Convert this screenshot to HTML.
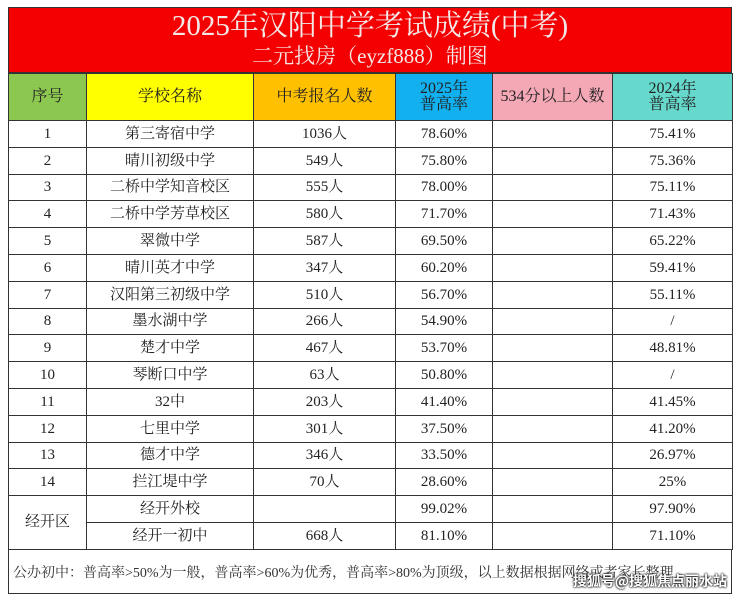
<!DOCTYPE html>
<html><head><meta charset="utf-8"><style>
body{margin:0;background:#fff;width:740px;height:602px;overflow:hidden;font-family:"Liberation Serif","Noto Serif CJK SC",serif;}
.wrap{position:absolute;left:8px;top:7px;width:724px;}
.title{background:#f50000;height:66px;border:1px solid #333;box-sizing:border-box;text-align:center;color:#f3e8e8;}
.t1{font-size:29px;line-height:32px;padding-top:2px;}
.t2{font-size:21px;line-height:28px;}
table{border-collapse:collapse;width:724px;table-layout:fixed;}
td{border:1px solid #333;text-align:center;font-size:15px;color:#222;height:25.8px;padding:0;line-height:16px;}
tr.h td{height:46px;font-size:16px;}
.foot{border:1px solid #333;border-top:none;height:44px;box-sizing:border-box;font-size:14px;color:#333;padding:12px 0 0 4px;white-space:nowrap;position:relative;}
.wm{position:absolute;right:4px;bottom:2px;font-family:"Noto Sans CJK SC",sans-serif;font-weight:bold;color:#fff;font-size:14px;text-shadow:0 0 2px #000,0 0 2px #000;}
</style></head><body>
<div class="wrap">
<div class="title"><div class="t1">2025年汉阳中学考试成绩(中考)</div><div class="t2">二元找房（eyzf888）制图</div></div>
<table>
<colgroup><col style="width:78px"><col style="width:167px"><col style="width:142px"><col style="width:97px"><col style="width:120px"><col style="width:120px"></colgroup>
<tr class="h"><td style="background:#8cc850">序号</td><td style="background:#ffff00">学校名称</td><td style="background:#ffc000">中考报名人数</td><td style="background:#12b0ee">2025年<br>普高率</td><td style="background:#f4a8b6">534分以上人数</td><td style="background:#66d8cc">2024年<br>普高率</td></tr>
<tr><td>1</td><td>第三寄宿中学</td><td>1036人</td><td>78.60%</td><td></td><td>75.41%</td></tr>
<tr><td>2</td><td>晴川初级中学</td><td>549人</td><td>75.80%</td><td></td><td>75.36%</td></tr>
<tr><td>3</td><td>二桥中学知音校区</td><td>555人</td><td>78.00%</td><td></td><td>75.11%</td></tr>
<tr><td>4</td><td>二桥中学芳草校区</td><td>580人</td><td>71.70%</td><td></td><td>71.43%</td></tr>
<tr><td>5</td><td>翠微中学</td><td>587人</td><td>69.50%</td><td></td><td>65.22%</td></tr>
<tr><td>6</td><td>晴川英才中学</td><td>347人</td><td>60.20%</td><td></td><td>59.41%</td></tr>
<tr><td>7</td><td>汉阳第三初级中学</td><td>510人</td><td>56.70%</td><td></td><td>55.11%</td></tr>
<tr><td>8</td><td>墨水湖中学</td><td>266人</td><td>54.90%</td><td></td><td>/</td></tr>
<tr><td>9</td><td>楚才中学</td><td>467人</td><td>53.70%</td><td></td><td>48.81%</td></tr>
<tr><td>10</td><td>琴断口中学</td><td>63人</td><td>50.80%</td><td></td><td>/</td></tr>
<tr><td>11</td><td>32中</td><td>203人</td><td>41.40%</td><td></td><td>41.45%</td></tr>
<tr><td>12</td><td>七里中学</td><td>301人</td><td>37.50%</td><td></td><td>41.20%</td></tr>
<tr><td>13</td><td>德才中学</td><td>346人</td><td>33.50%</td><td></td><td>26.97%</td></tr>
<tr><td>14</td><td>拦江堤中学</td><td>70人</td><td>28.60%</td><td></td><td>25%</td></tr>
<tr><td rowspan="2">经开区</td><td>经开外校</td><td></td><td>99.02%</td><td></td><td>97.90%</td></tr>
<tr><td>经开一初中</td><td>668人</td><td>81.10%</td><td></td><td>71.10%</td></tr>
</table>
<div class="foot">公办初中：普高率&gt;50%为一般，普高率&gt;60%为优秀，普高率&gt;80%为顶级，以上数据根据网络或者家长整理<span class="wm">搜狐号@搜狐焦点丽水站</span></div>
</div>
</body></html>
